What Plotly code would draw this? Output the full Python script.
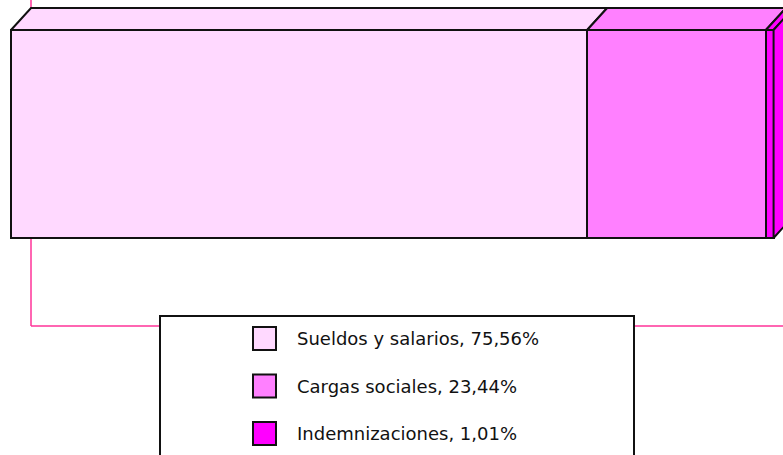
import plotly.graph_objects as go

# ---- data ----
categories = ["Sueldos y salarios", "Cargas sociales", "Indemnizaciones"]
values = [75.56, 23.44, 1.01]
value_labels = ["75,56%", "23,44%", "1,01%"]
front_colors = ["#FFD9FF", "#FF80FF", "#FF00FF"]

W, H = 783, 455
px_per_unit = 7.625          # horizontal scale (pixels per percent)
x_left_px = 11               # where 0% sits
depth_dx = 20 / px_per_unit  # 3D depth offset in data units
depth_dy = 22                # 3D depth offset in pixels (y axis is pixel-like)
bar_center = 134
bar_thick = 208
front_top = bar_center - bar_thick / 2
back_top = front_top - depth_dy
edge = dict(color="#111111", width=2)

fig = go.Figure()

# front faces
for cat, v, c in zip(categories, values, front_colors):
    fig.add_trace(go.Bar(x=[v], y=[bar_center], orientation="h", width=bar_thick,
                         marker=dict(color=c, line=edge), name=cat, showlegend=False,
                         hoverinfo="skip"))

# top faces + side face
cum = 0
for i, (v, c) in enumerate(zip(values, front_colors)):
    x0, x1 = cum, cum + v
    fig.add_trace(go.Scatter(
        x=[x0, x0 + depth_dx, x1 + depth_dx, x1, x0],
        y=[front_top, back_top, back_top, front_top, front_top],
        fill="toself", fillcolor=c, mode="lines", line=edge,
        showlegend=False, hoverinfo="skip"))
    cum = x1
x_end = cum
front_bottom = bar_center + bar_thick / 2
fig.add_trace(go.Scatter(
    x=[x_end, x_end + depth_dx, x_end + depth_dx, x_end, x_end],
    y=[front_top, back_top, front_bottom - depth_dy, front_bottom, front_top],
    fill="toself", fillcolor=front_colors[-1], mode="lines", line=edge,
    showlegend=False, hoverinfo="skip"))

x_min = -x_left_px / px_per_unit
x_max = (W - x_left_px) / px_per_unit

shapes = []
pink = dict(color="#FF3399", width=1.5)
frame_y = 326
# pink frame (plot-area border) behind the bar
shapes.append(dict(type="line", xref="x", yref="y", x0=depth_dx, x1=depth_dx,
                   y0=-10, y1=frame_y, line=pink, layer="below"))
shapes.append(dict(type="line", xref="x", yref="y", x0=depth_dx, x1=x_max + 5,
                   y0=frame_y, y1=frame_y, line=pink, layer="below"))

# legend box
shapes.append(dict(type="rect", xref="paper", yref="y", x0=160 / W, x1=634 / W,
                   y0=316, y1=H + 10, line=dict(color="#111111", width=2),
                   fillcolor="white", layer="above"))

annotations = []
row_centers = [338.5, 386, 433.5]
sq = 23
for cat, lab, c, yc in zip(categories, value_labels, front_colors, row_centers):
    shapes.append(dict(type="rect", xref="paper", yref="y",
                       x0=253 / W, x1=(253 + sq) / W, y0=yc - sq / 2, y1=yc + sq / 2,
                       fillcolor=c, line=dict(color="#111111", width=2), layer="above"))
    annotations.append(dict(xref="paper", yref="y", x=295 / W, y=yc,
                            text=f"{cat}, {lab}", showarrow=False,
                            xanchor="left", yanchor="middle",
                            font=dict(family="DejaVu Sans", size=18, color="#111111")))

fig.update_layout(
    width=W, height=H, barmode="stack",
    margin=dict(l=0, r=0, t=0, b=0, pad=0),
    paper_bgcolor="white", plot_bgcolor="white",
    xaxis=dict(range=[x_min, x_max], visible=False, fixedrange=True),
    yaxis=dict(range=[H, 0], visible=False, fixedrange=True),
    shapes=shapes, annotations=annotations, showlegend=False,
)

fig.write_html("out.html", config={"displayModeBar": False},
               post_script="document.body.style.margin='0';")
